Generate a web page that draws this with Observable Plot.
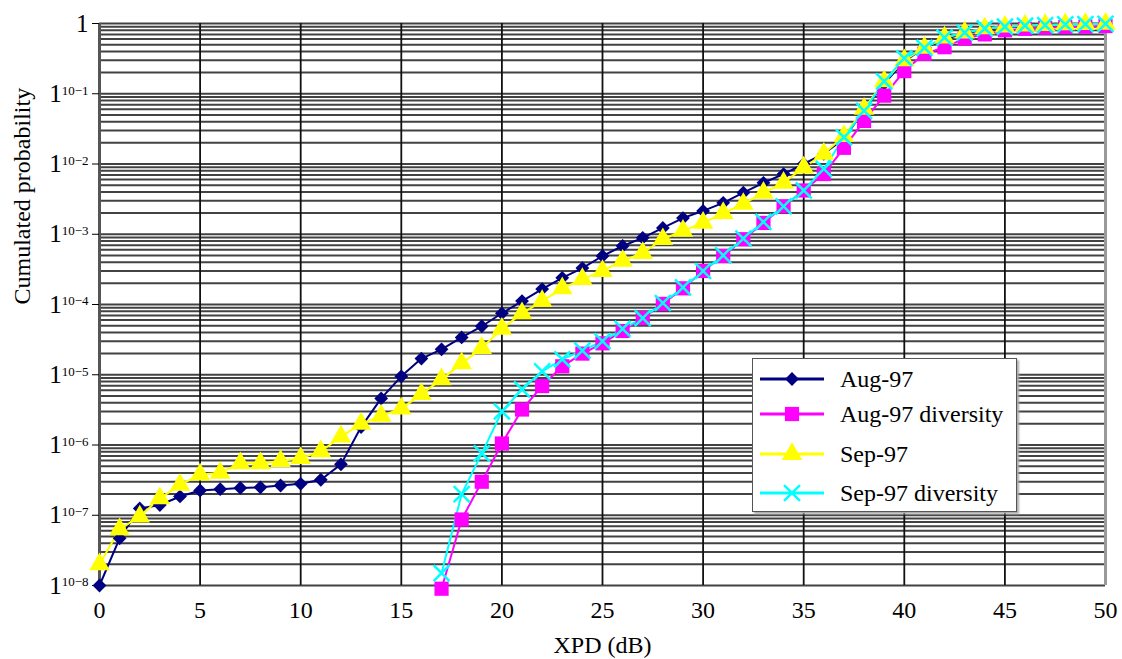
<!DOCTYPE html>
<html><head><meta charset="utf-8">
<script src="https://cdn.jsdelivr.net/npm/d3@7"></script>
<script src="https://cdn.jsdelivr.net/npm/@observablehq/plot@0.6"></script>
<style>
body{margin:0;background:#fff;}
#wrap{position:relative;width:1122px;height:659px;overflow:hidden;font-family:"Liberation Serif","Times New Roman",serif;}
#legend{position:absolute;left:752px;top:358px;width:265px;height:154px;border:1px solid #555;background:#fff;box-shadow:2px 2px 2px #aaa;box-sizing:border-box;}
.row{position:absolute;left:0;height:30px;display:flex;align-items:center;font-size:24px;color:#000;white-space:nowrap;}
.row svg{margin-left:6px;margin-right:15px;}
</style></head>
<body><div id="wrap"><div id="chart"></div><div id="legend"></div></div>
<script>
// ---- data ----
const xAll = [0,1,2,3,4,5,6,7,8,9,10,11,12,13,14,15,16,17,18,19,20,21,22,23,24,25,26,27,28,29,30,31,32,33,34,35,36,37,38,39,40,41,42,43,44,45,46,47,48,49,50];
const xDiv = [17,18,19,20,21,22,23,24,25,26,27,28,29,30,31,32,33,34,35,36,37,38,39,40,41,42,43,44,45,46,47,48,49,50];
const aug97 = [1.0e-8,4.7e-8,1.25e-7,1.4e-7,1.85e-7,2.25e-7,2.35e-7,2.45e-7,2.5e-7,2.65e-7,2.8e-7,3.2e-7,5.3e-7,1.8e-6,4.6e-6,9.5e-6,1.7e-5,2.3e-5,3.4e-5,4.9e-5,7.5e-5,1.12e-4,1.66e-4,2.4e-4,3.3e-4,4.9e-4,6.8e-4,8.9e-4,1.23e-3,1.7e-3,2.15e-3,2.8e-3,3.9e-3,5.4e-3,7.2e-3,1.0e-2,1.4e-2,2.3e-2,5.8e-2,0.14,0.29,0.45,0.6,0.72,0.82,0.88,0.92,0.95,0.97,0.98,0.99];
const sep97 = [2.0e-8,6.3e-8,9.6e-8,1.74e-7,2.7e-7,3.8e-7,4.0e-7,5.5e-7,5.5e-7,5.9e-7,6.5e-7,8.1e-7,1.32e-6,2.0e-6,2.6e-6,3.3e-6,5.3e-6,8.6e-6,1.45e-5,2.4e-5,4.5e-5,7.5e-5,1.12e-4,1.7e-4,2.3e-4,3.0e-4,4.2e-4,5.4e-4,8.5e-4,1.12e-3,1.45e-3,2.0e-3,2.7e-3,3.9e-3,5.4e-3,8.9e-3,1.4e-2,2.5e-2,6.1e-2,0.15,0.30,0.45,0.63,0.74,0.85,0.9,0.93,0.95,0.97,0.98,0.99];
const aug97div = [9e-9,8.7e-8,3.0e-7,1.05e-6,3.2e-6,6.9e-6,1.32e-5,2.0e-5,2.8e-5,4.2e-5,6.4e-5,1.02e-4,1.7e-4,3.0e-4,4.9e-4,8.5e-4,1.45e-3,2.5e-3,4.2e-3,7.2e-3,1.7e-2,4.1e-2,9.4e-2,0.21,0.37,0.46,0.61,0.7,0.8,0.84,0.87,0.89,0.9,0.92];
const sep97div = [1.5e-8,2.0e-7,7.6e-7,3.0e-6,6.2e-6,1.12e-5,1.66e-5,2.2e-5,3.0e-5,4.5e-5,6.4e-5,1.05e-4,1.75e-4,3.0e-4,5.0e-4,8.7e-4,1.5e-3,2.5e-3,4.2e-3,8.5e-3,2.4e-2,5.7e-2,0.15,0.32,0.45,0.63,0.74,0.85,0.9,0.93,0.95,0.97,0.98,0.99];
const seriesNames = ["Aug-97","Aug-97 diversity","Sep-97","Sep-97 diversity"];
const xTicks = [0,5,10,15,20,25,30,35,40,45,50];
const yTicks = [1,1e-1,1e-2,1e-3,1e-4,1e-5,1e-6,1e-7,1e-8];

// ---- styles ----
const colors = {"Aug-97":"#000080","Aug-97 diversity":"#ff00ff","Sep-97":"#ffff00","Sep-97 diversity":"#00ffff"};
const diamondSym = {draw(ctx, size){const r=Math.sqrt(size/2);ctx.moveTo(0,-r);ctx.lineTo(r,0);ctx.lineTo(0,r);ctx.lineTo(-r,0);ctx.closePath();}};
const markers = {
  "Aug-97":{symbol:diamondSym, r:5.5, filled:true},
  "Aug-97 diversity":{symbol:"square", r:8, filled:true},
  "Sep-97":{symbol:"triangle", r:7.6, filled:true},
  "Sep-97 diversity":{symbol:"times", r:7.3, filled:false}
};

const rows = {
  "Aug-97": xAll.map((x,i)=>({x, y:aug97[i]})),
  "Aug-97 diversity": xDiv.map((x,i)=>({x, y:aug97div[i]})),
  "Sep-97": xAll.map((x,i)=>({x, y:sep97[i]})),
  "Sep-97 diversity": xDiv.map((x,i)=>({x, y:sep97div[i]}))
};

// minor log grid
const gridY = [];
for (let k=-8;k<0;k++) for (let m=1;m<10;m++) gridY.push(m*Math.pow(10,k));
gridY.push(1);

const fmtY = d => {
  const e = Math.round(Math.log10(d));
  return e === 0 ? "1" : "1^10−" + (-e);
};

const font = '"Liberation Serif","Times New Roman",serif';
const marks = [
  Plot.ruleY(gridY, {stroke:"#2e2e2e", strokeWidth:2, strokeOpacity:0.9}),
  Plot.ruleX(xTicks, {stroke:"#111", strokeWidth:1.8}),
  Plot.ruleX([0], {stroke:"#555", strokeWidth:3}),
  Plot.ruleX([50], {stroke:"#999", strokeWidth:3}),
  Plot.axisY({ticks:yTicks, tickSize:7, tickPadding:4, fontSize:25, tickFormat:fmtY, label:null}),
  Plot.axisX({ticks:xTicks, tickSize:0, tickPadding:15, fontSize:24, label:null}),
  Plot.text(["XPD (dB)"], {frameAnchor:"bottom", dy:67, fontSize:24}),
  Plot.text(["Cumulated probability"], {frameAnchor:"left", dx:-77, rotate:-90, fontSize:24})
];
for (const s of seriesNames) {
  marks.push(Plot.line(rows[s], {x:"x", y:"y", stroke:colors[s], strokeWidth:2}));
}
for (const s of seriesNames) {
  const mk = markers[s];
  marks.push(Plot.dot(rows[s], mk.filled
    ? {x:"x", y:"y", symbol:()=>mk.symbol, r:mk.r, fill:colors[s], stroke:"none"}
    : {x:"x", y:"y", symbol:()=>mk.symbol, r:mk.r, stroke:colors[s], strokeWidth:2.5, fill:"none"}));
}

const chart = Plot.plot({
  width:1122, height:659,
  marginLeft:99, marginRight:17, marginTop:23, marginBottom:74,
  style:{fontFamily:font, fontSize:"24px", background:"white", color:"#000"},
  x:{domain:[0,50]},
  y:{type:"log", domain:[1e-8,1]},
  symbol:{type:"identity"},
  marks
});
document.getElementById("chart").appendChild(chart);

// superscript formatting of y tick labels
chart.querySelectorAll("text").forEach(t => {
  const s = t.textContent;
  if (s.includes("^")) {
    const [b, e] = s.split("^");
    t.textContent = "";
    const ns = "http://www.w3.org/2000/svg";
    const t1 = document.createElementNS(ns, "tspan"); t1.textContent = b;
    const t2 = document.createElementNS(ns, "tspan"); t2.textContent = e;
    t2.setAttribute("font-size", "13"); t2.setAttribute("dy", "-0.55em");
    t.appendChild(t1); t.appendChild(t2);
  }
});

// legend
const legend = document.getElementById("legend");
const tops = [5, 40, 80, 119];
seriesNames.forEach((s, i) => {
  const row = document.createElement("div");
  row.className = "row"; row.style.top = tops[i] + "px";
  const mk = markers[s];
  const sym = typeof mk.symbol === "string" ? {square:d3.symbolSquare, triangle:d3.symbolTriangle, times:d3.symbolTimes}[mk.symbol] : mk.symbol;
  const path = d3.symbol(sym, mk.r*mk.r*Math.PI)();
  const svg = d3.create("svg").attr("width", 66).attr("height", 30);
  svg.append("line").attr("x1",1).attr("x2",65).attr("y1",15).attr("y2",15).attr("stroke",colors[s]).attr("stroke-width",3);
  svg.append("path").attr("d", path).attr("transform","translate(33,15)")
    .attr("fill", mk.filled ? colors[s] : "none").attr("stroke", mk.filled ? "none" : colors[s]).attr("stroke-width", 2.5);
  row.appendChild(svg.node());
  const span = document.createElement("span"); span.textContent = s;
  row.appendChild(span);
  legend.appendChild(row);
});
</script>
</body></html>
